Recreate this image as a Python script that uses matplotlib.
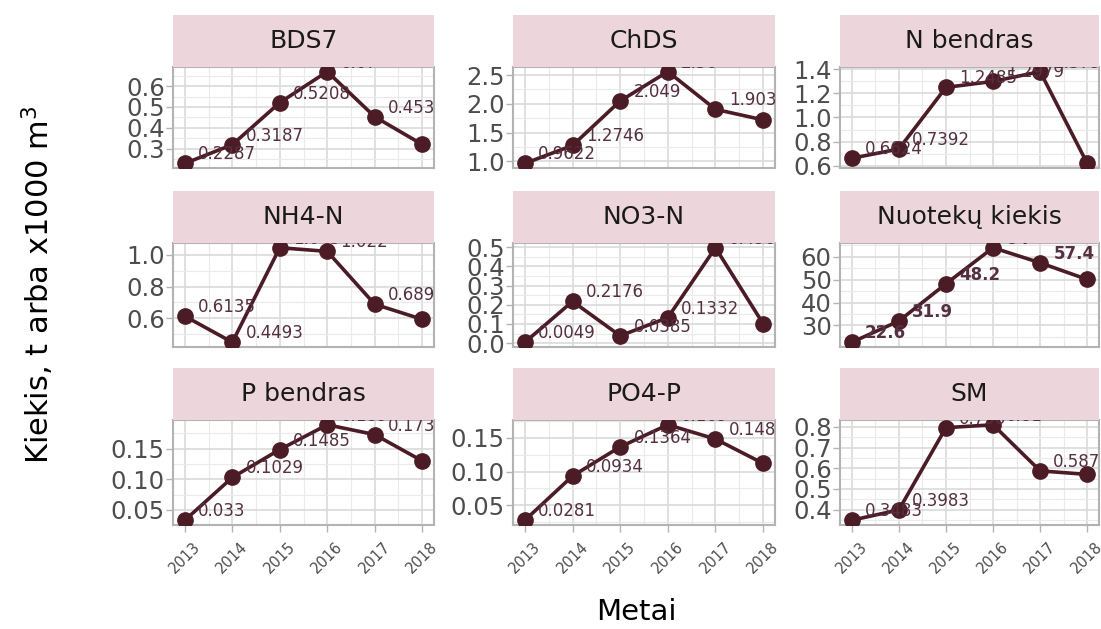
import matplotlib
matplotlib.use('Agg')
import matplotlib.pyplot as plt
from matplotlib.ticker import FixedLocator, AutoMinorLocator

# yearly load per parameter
years = [2013, 2014, 2015, 2016, 2017, 2018]

bds7 = [0.2287, 0.3187, 0.5208, 0.67, 0.453, 0.32]
chds = [0.9622, 1.2746, 2.049, 2.56, 1.903, 1.72]
n_bendras = [0.6624, 0.7392, 1.2485, 1.2979, 1.379, 0.62]
nh4_n = [0.6135, 0.4493, 1.045, 1.022, 0.689, 0.594]
no3_n = [0.0049, 0.2176, 0.0385, 0.1332, 0.4967, 0.102]
nuotekos = [22.6, 31.9, 48.2, 64.0, 57.4, 50.1]
p_bendras = [0.033, 0.1029, 0.1485, 0.189, 0.173, 0.13]
po4_p = [0.0281, 0.0934, 0.1364, 0.169, 0.148, 0.112]
sm = [0.3483, 0.3983, 0.796, 0.81, 0.587, 0.57]

titles = ['BDS7', 'ChDS', 'N bendras', 'NH4-N', 'NO3-N', 'Nuotekų kiekis',
          'P bendras', 'PO4-P', 'SM']
series = [bds7, chds, n_bendras, nh4_n, no3_n, nuotekos, p_bendras, po4_p, sm]

# y breaks for each facet
y_breaks = [
    [0.3, 0.4, 0.5, 0.6],
    [1.0, 1.5, 2.0, 2.5],
    [0.6, 0.8, 1.0, 1.2, 1.4],
    [0.6, 0.8, 1.0],
    [0.0, 0.1, 0.2, 0.3, 0.4, 0.5],
    [30, 40, 50, 60],
    [0.05, 0.10, 0.15],
    [0.05, 0.10, 0.15],
    [0.4, 0.5, 0.6, 0.7, 0.8],
]
y_decimals = [1, 1, 1, 1, 1, 0, 2, 2, 1]

W, H = 1101, 629
LINE = '#4B1C25'
STRIP = '#ECD6DB'

col_x = [(173, 434), (513, 775), (840, 1099)]
row_y = [(67, 168), (243, 347), (420, 525)]
strip_h = 52

fig = plt.figure(figsize=(W / 100, H / 100), dpi=100)


def frac(x0, x1, y0, y1):
    return [x0 / W, 1 - y1 / H, (x1 - x0) / W, (y1 - y0) / H]


for i, (title, vals) in enumerate(zip(titles, series)):
    r, c = divmod(i, 3)
    x0, x1 = col_x[c]
    y0, y1 = row_y[r]

    ax = fig.add_axes(frac(x0, x1, y0, y1))
    ax.plot(years, vals, color=LINE, lw=2.6, marker='o', ms=11,
            solid_capstyle='round', zorder=3)
    ax.margins(x=0.05, y=0.05)

    weight = 'bold' if title == 'Nuotekų kiekis' else 'normal'
    for yr, v in zip(years, vals):
        ax.annotate(f'{v:g}', (yr, v), xytext=(9.5, 6.5),
                    textcoords='offset points', ha='left', va='center',
                    fontsize=12, color='#553040', fontweight=weight,
                    clip_on=True, zorder=4)

    ax.xaxis.set_major_locator(FixedLocator(years))
    ax.xaxis.set_minor_locator(AutoMinorLocator(2))
    ax.yaxis.set_major_locator(FixedLocator(y_breaks[i]))
    ax.yaxis.set_minor_locator(AutoMinorLocator(2))
    d = y_decimals[i]
    ax.set_yticklabels([f'{b:.{d}f}' for b in y_breaks[i]])

    ax.grid(which='major', color='#DADADA', lw=1.2)
    ax.grid(which='minor', color='#EAEAEA', lw=0.8)
    ax.set_axisbelow(True)
    for sp in ax.spines.values():
        sp.set_color('#B3B3B3')
        sp.set_linewidth(1.5)

    ax.tick_params(which='minor', length=0)
    ax.tick_params(axis='y', which='major', length=5, width=1, color='#B3B3B3',
                   pad=1, labelsize=17.5, labelcolor='#4D4D4D')
    if r == 2:
        ax.tick_params(axis='x', which='major', length=5, width=1,
                       color='#B3B3B3', pad=5, labelsize=10.5,
                       labelcolor='#4D4D4D')
        for lab in ax.get_xticklabels():
            lab.set_rotation(45)
            lab.set_ha('center')
            lab.set_va('top')
    else:
        ax.tick_params(axis='x', which='major', length=0, labelbottom=False)

    # facet strip
    sax = fig.add_axes(frac(x0, x1, y0 - strip_h, y0))
    sax.set_facecolor(STRIP)
    sax.set_xticks([])
    sax.set_yticks([])
    for sp in sax.spines.values():
        sp.set_visible(False)
    sax.text(0.5, 0.5, title, ha='center', va='center', fontsize=18,
             color='#1A1A1A', transform=sax.transAxes)

fig.text(38 / W, 1 - 285 / H, 'Kiekis, t arba x1000 m$^{3}$', rotation=90,
         ha='center', va='center', fontsize=22, color='black')
fig.text(636 / W, 1 - 612 / H, 'Metai', ha='center', va='center',
         fontsize=21, color='black')

fig.savefig('out.png', dpi=100)
